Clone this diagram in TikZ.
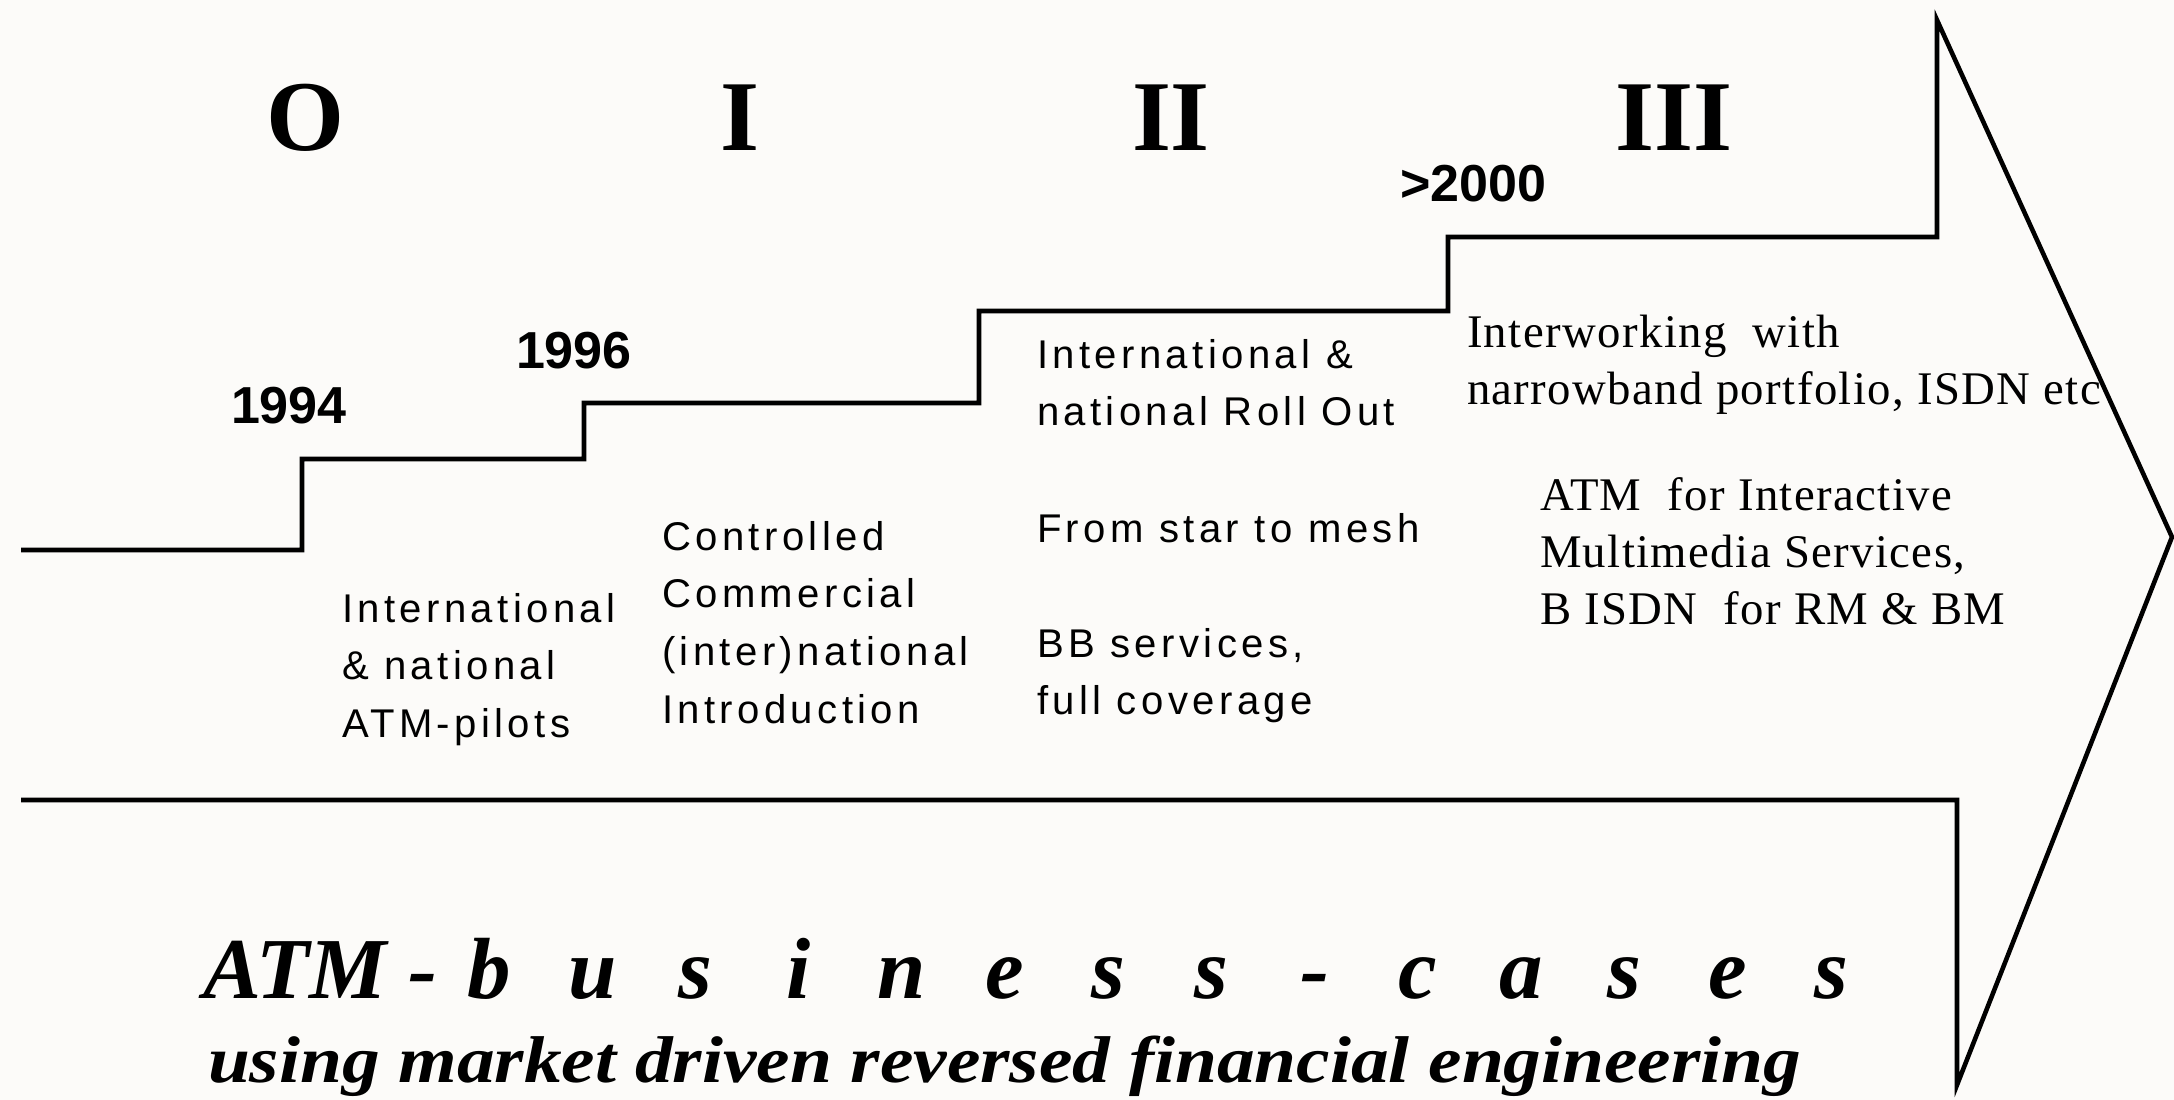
\documentclass[tikz,border=0pt]{standalone}
\usepackage{fontspec}
\setmainfont{Liberation Serif}
\newfontfamily\yearfont{Liberation Sans}
\newfontfamily\sansbody[LetterSpace=11]{Liberation Sans}
\newfontfamily\serifbody[LetterSpace=3]{Liberation Serif}
\newfontfamily\widefont[FakeStretch=1.14]{Liberation Serif}
\usepackage{tikz}
\definecolor{paper}{RGB}{252,251,249}
\newcommand{\spreadletter}[1]{\makebox[1.032cm][c]{#1}}

\begin{document}
\begin{tikzpicture}[
    x=0.01cm, y=-0.01cm, line width=1.3pt, line join=miter,
    every node/.style={inner sep=0pt, outer sep=0pt},
    phase/.style={anchor=base, font=\bfseries\fontsize{28.5}{30}\selectfont},
    year/.style={anchor=base west, font=\yearfont\bfseries\fontsize{14.8}{16}\selectfont},
    sanstext/.style={anchor=north west, align=left, font=\sansbody\fontsize{11.4}{16.4}\selectfont},
    seriftext/.style={anchor=north west, align=left, font=\serifbody\fontsize{13.3}{16.2}\selectfont},
    slogan/.style={anchor=base west, font=\bfseries\itshape\fontsize{24.7}{26}\selectfont},
    subslogan/.style={anchor=base west, font=\widefont\bfseries\itshape\fontsize{18.8}{20}\selectfont}
]
\fill[paper] (0,0) rectangle (2174,1100);
\useasboundingbox (0,0) rectangle (2174,1100);

% Define shapes
\node (phaseO) [phase] at (305,150) {O};
\node (phaseI) [phase] at (740,150) {I};
\node (phaseII) [phase] at (1171,150) {II};
\node (phaseIII) [phase] at (1674,150) {III};

\node (y1994) [year] at (231,423) {1994};
\node (y1996) [year] at (516,368) {1996};
\node (y2000) [year] at (1400,202) {>2000};

\node (pilots) [sanstext] at (342,593) {International\\ \& national\\ ATM-pilots};
\node (intro) [sanstext] at (662,521) {Controlled\\ Commercial\\ (inter)national\\ Introduction};
\node (rollout) [sanstext] at (1037,339) {International \&\\ national Roll Out};
\node (mesh) [sanstext] at (1037,513) {From star to mesh};
\node (bbserv) [sanstext] at (1037,628) {BB services,\\ full coverage};

\node (interwork) [seriftext] at (1467,315) {Interworking\ \ with\\ narrowband portfolio, ISDN etc};
\node (multimedia) [seriftext] at (1540,478) {ATM\ \ for Interactive\\ Multimedia Services,\\ B ISDN\ \ for RM \& BM};

\node (cases) [slogan] at (203,998) {ATM\hspace{0.22cm}-\spreadletter{b}\spreadletter{u}\spreadletter{s}\spreadletter{i}\spreadletter{n}\spreadletter{e}\spreadletter{s}\spreadletter{s}\spreadletter{-}\spreadletter{c}\spreadletter{a}\spreadletter{s}\spreadletter{e}\spreadletter{s}};
\node (engineering) [subslogan] at (208,1082) {using market driven reversed financial engineering};

% Draw staircase arrow
\draw (21,550) -- (302,550) -- (302,459) -- (584,459) -- (584,403) -- (979,403) -- (979,311)
    -- (1448,311) -- (1448,237) -- (1937,237) -- (1937,20) -- (2172,537) -- (1957,1085)
    -- (1957,800) -- (21,800);
\end{tikzpicture}
\end{document}
